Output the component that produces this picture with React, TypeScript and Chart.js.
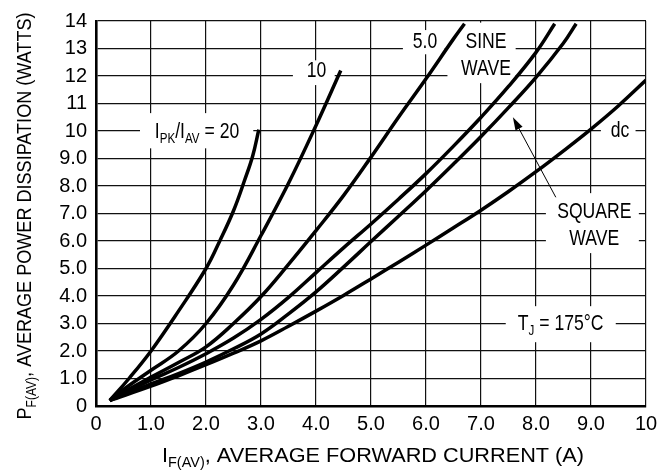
import React, { useEffect, useRef } from 'react';
import { Chart, registerables } from 'chart.js';

Chart.register(...registerables);

const FONT = "'Liberation Sans', Arial, Helvetica, sans-serif";

// Tick labels
const xTickLabels = ['0', '1.0', '2.0', '3.0', '4.0', '5.0', '6.0', '7.0', '8.0', '9.0', '10'];
const yTickLabels = ['0', '1.0', '2.0', '3.0', '4.0', '5.0', '6.0', '7.0', '8.0', '9.0', '10', '11', '12', '13', '14'];

// I_PK/I_AV = 20
const ratio20X = [0.25, 0.6, 1.0, 1.5, 2.0, 2.25, 2.5, 2.7, 2.85, 2.96];
const ratio20Y = [0.2, 1.0, 2.0, 3.45, 5.0, 6.0, 7.1, 8.2, 9.1, 10.05];
// 10
const ratio10X = [0.25, 0.5, 1.0, 1.5, 2.0, 2.5, 3.0, 3.5, 4.0, 4.45];
const ratio10Y = [0.2, 0.6, 1.3, 2.0, 3.0, 4.4, 6.2, 8.1, 10.2, 12.2];
// 5.0
const ratio5X = [0.25, 0.5, 1.0, 1.5, 2.0, 2.5, 3.0, 3.5, 4.0, 4.5, 5.0, 5.5, 6.0, 6.5, 6.7];
const ratio5Y = [0.2, 0.5, 1.05, 1.58, 2.15, 3.0, 3.98, 5.15, 6.38, 7.65, 9.05, 10.5, 11.9, 13.35, 13.9];
// sine wave
const sineX = [0.25, 1.0, 1.5, 2.0, 2.5, 3.0, 3.5, 4.0, 4.5, 5.0, 5.5, 6.0, 6.5, 7.0, 7.5, 8.0, 8.34];
const sineY = [0.2, 0.95, 1.4, 1.9, 2.47, 3.15, 3.95, 4.85, 5.75, 6.62, 7.52, 8.45, 9.45, 10.5, 11.62, 12.86, 13.9];
// square wave
const squareX = [0.25, 1.0, 1.5, 2.0, 2.5, 3.0, 3.5, 4.0, 4.5, 5.0, 5.5, 6.0, 6.5, 7.0, 7.5, 8.0, 8.5, 8.73];
const squareY = [0.2, 0.8, 1.18, 1.6, 2.08, 2.62, 3.35, 4.15, 5.05, 5.98, 6.9, 7.83, 8.8, 9.8, 10.85, 11.95, 13.2, 13.9];
// dc
const dcX = [0.25, 1.0, 1.5, 2.0, 2.5, 3.0, 3.5, 4.0, 4.5, 5.0, 5.5, 6.0, 6.5, 7.0, 7.5, 8.0, 8.5, 9.0, 9.5, 10.0];
const dcY = [0.2, 0.72, 1.1, 1.5, 1.92, 2.37, 2.9, 3.45, 4.02, 4.62, 5.23, 5.85, 6.48, 7.12, 7.8, 8.52, 9.28, 10.07, 10.92, 11.85];

const seriesList = [
  { name: '20', xs: ratio20X, ys: ratio20Y },
  { name: '10', xs: ratio10X, ys: ratio10Y },
  { name: '5.0', xs: ratio5X, ys: ratio5Y },
  { name: 'sine', xs: sineX, ys: sineY },
  { name: 'square', xs: squareX, ys: squareY },
  { name: 'dc', xs: dcX, ys: dcY },
];

type Part = { t: string; sub?: boolean };
type Note = { parts: Part[][]; x: number; ys: number[]; align: 'left' | 'center'; box: [number, number, number, number] };

const notes: Note[] = [
  { parts: [[{ t: 'I' }, { t: 'PK', sub: true }, { t: '/I' }, { t: 'AV', sub: true }, { t: ' = 20' }]], x: 1.07, ys: [9.74], align: 'left', box: [0.8, 9.37, 2.86, 10.65] },
  { parts: [[{ t: '10' }]], x: 3.83, ys: [11.96], align: 'left', box: [3.58, 11.67, 4.34, 12.57] },
  { parts: [[{ t: '5.0' }]], x: 5.76, ys: [13.01], align: 'left', box: [5.58, 12.79, 6.34, 13.67] },
  { parts: [[{ t: 'SINE' }], [{ t: 'WAVE' }]], x: 7.09, ys: [13.01, 12.03], align: 'center', box: [6.39, 11.74, 7.63, 13.94] },
  { parts: [[{ t: 'dc' }]], x: 9.36, ys: [9.77], align: 'left', box: [9.18, 9.59, 9.81, 10.39] },
  { parts: [[{ t: 'SQUARE' }], [{ t: 'WAVE' }]], x: 9.06, ys: [6.83, 5.85], align: 'center', box: [8.18, 5.56, 9.87, 7.74] },
  { parts: [[{ t: 'T' }, { t: 'J', sub: true }, { t: ' = 175°C' }]], x: 7.67, ys: [2.76], align: 'left', box: [7.45, 2.32, 9.45, 3.63] },
];

const arrowTail = [8.36, 7.59];
const arrowTip = [7.58, 10.5];

function measureRich(ctx: CanvasRenderingContext2D, parts: Part[], size: number, subSize: number) {
  return parts.map((p) => {
    ctx.font = `${p.sub ? subSize : size}px ${FONT}`;
    return ctx.measureText(p.t).width;
  });
}

function drawRich(
  ctx: CanvasRenderingContext2D,
  parts: Part[],
  x: number,
  y: number,
  align: 'left' | 'center',
  sx: number,
  size: number,
  subSize: number,
  subDy: number
) {
  const widths = measureRich(ctx, parts, size, subSize).map((w) => w * sx);
  const total = widths.reduce((a, b) => a + b, 0);
  let cx = align === 'center' ? x - total / 2 : x;
  ctx.textAlign = 'left';
  ctx.textBaseline = 'alphabetic';
  parts.forEach((p, i) => {
    ctx.font = `${p.sub ? subSize : size}px ${FONT}`;
    ctx.save();
    ctx.translate(cx, y + (p.sub ? subDy : 0));
    ctx.scale(sx, 1);
    ctx.fillText(p.t, 0, 0);
    ctx.restore();
    cx += widths[i];
  });
}

const xTitle: Part[] = [{ t: 'I' }, { t: 'F(AV)', sub: true }, { t: ', AVERAGE FORWARD CURRENT (A)' }];
const yTitle: Part[] = [{ t: 'P' }, { t: 'F(AV)', sub: true }, { t: ', AVERAGE POWER DISSIPATION (WATTS)' }];

const annotPlugin = {
  id: 'annot',
  beforeDatasetsDraw(chart: any) {
    const { ctx } = chart;
    const xs = chart.scales.x;
    const ysc = chart.scales.y;
    const X = (v: number) => xs.getPixelForValue(v);
    const Y = (v: number) => ysc.getPixelForValue(v);
    ctx.save();
    ctx.fillStyle = '#fff';
    notes.forEach((n) => {
      const [x0, y0, x1, y1] = n.box;
      ctx.fillRect(X(x0), Y(y1), X(x1) - X(x0), Y(y0) - Y(y1));
    });
    ctx.fillStyle = '#000';
    notes.forEach((n) => {
      n.parts.forEach((line, i) => {
        drawRich(ctx, line, X(n.x), Y(n.ys[i]), n.align, 0.8, 22, 14.5, 5);
      });
    });
    ctx.restore();
  },
  afterDatasetsDraw(chart: any) {
    const { ctx } = chart;
    const xs = chart.scales.x;
    const ysc = chart.scales.y;
    const tx = xs.getPixelForValue(arrowTail[0]);
    const ty = ysc.getPixelForValue(arrowTail[1]);
    const hx = xs.getPixelForValue(arrowTip[0]);
    const hy = ysc.getPixelForValue(arrowTip[1]);
    const ang = Math.atan2(hy - ty, hx - tx);
    const L = 13;
    const W = 4;
    ctx.save();
    ctx.strokeStyle = '#000';
    ctx.fillStyle = '#000';
    ctx.lineWidth = 1;
    ctx.beginPath();
    ctx.moveTo(tx, ty);
    ctx.lineTo(hx - Math.cos(ang) * L * 0.8, hy - Math.sin(ang) * L * 0.8);
    ctx.stroke();
    ctx.beginPath();
    ctx.moveTo(hx, hy);
    ctx.lineTo(hx - Math.cos(ang) * L + Math.sin(ang) * W, hy - Math.sin(ang) * L - Math.cos(ang) * W);
    ctx.lineTo(hx - Math.cos(ang) * L - Math.sin(ang) * W, hy - Math.sin(ang) * L + Math.cos(ang) * W);
    ctx.closePath();
    ctx.fill();
    ctx.restore();
  },
  afterDraw(chart: any) {
    const { ctx, chartArea } = chart;
    ctx.save();
    ctx.fillStyle = '#000';
    // x title
    const xw = measureRich(ctx, xTitle, 21, 14).reduce((a, b) => a + b, 0);
    const cxm = (chartArea.left + chartArea.right) / 2 + 2;
    drawRich(ctx, xTitle, cxm, 462, 'center', 422 / xw, 21, 14, 5);
    // y title
    const yw = measureRich(ctx, yTitle, 21, 14).reduce((a, b) => a + b, 0);
    ctx.translate(31, 216);
    ctx.rotate(-Math.PI / 2);
    drawRich(ctx, yTitle, 0, 0, 'center', 407 / yw, 21, 14, 5);
    ctx.restore();
  },
};

export default function App() {
  const ref = useRef<HTMLCanvasElement | null>(null);
  useEffect(() => {
    if (!ref.current) return;
    const chart = new Chart(ref.current, {
      type: 'line',
      data: {
        datasets: seriesList.map((s) => ({
          label: s.name,
          data: s.xs.map((x, i) => ({ x, y: s.ys[i] })),
          borderColor: '#000',
          borderWidth: 3.5,
          pointRadius: 0,
          fill: false,
          tension: 0.4,
        })),
      },
      options: {
        animation: false,
        responsive: true,
        maintainAspectRatio: false,
        layout: { padding: { left: 0, top: 21, right: 20, bottom: 0 } },
        plugins: { legend: { display: false }, tooltip: { enabled: false } },
        scales: {
          x: {
            type: 'linear',
            min: 0,
            max: 10,
            afterFit: (s: any) => {
              s.height = 67;
            },
            ticks: {
              stepSize: 1,
              autoSkip: false,
              maxRotation: 0,
              color: '#000',
              padding: 6,
              font: { family: FONT, size: 20 },
              callback: (v: any) => xTickLabels[Math.round(Number(v))],
            },
            grid: { color: '#111', lineWidth: 1.2, drawTicks: false },
            border: { color: '#000', width: 2.6 },
          },
          y: {
            type: 'linear',
            min: 0,
            max: 14,
            afterFit: (s: any) => {
              s.width = 96;
            },
            ticks: {
              stepSize: 1,
              autoSkip: false,
              color: '#000',
              padding: 9,
              font: { family: FONT, size: 20 },
              callback: (v: any) => yTickLabels[Math.round(Number(v))],
            },
            grid: { color: '#111', lineWidth: 1.2, drawTicks: false },
            border: { color: '#000', width: 2.6 },
          },
        },
      },
      plugins: [annotPlugin],
    });
    return () => chart.destroy();
  }, []);
  return (
    <div style={{ position: 'absolute', left: 0, top: 0, width: 666, height: 473, background: '#fff' }}>
      <canvas ref={ref} />
    </div>
  );
}
